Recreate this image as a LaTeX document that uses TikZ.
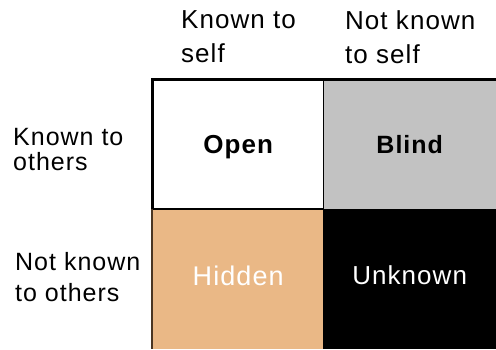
\documentclass[tikz,border=0pt]{standalone}
\usepackage{fontspec}
\setmainfont[LetterSpace=4]{Liberation Sans}
\definecolor{blindgray}{HTML}{C2C2C2}
\definecolor{hiddentan}{HTML}{EAB886}
\definecolor{hiddenedge}{HTML}{4A3522}
\tikzset{
  cell/.style={anchor=north west, inner sep=0pt, draw=none, text depth=0pt},
  toprow/.style={cell, minimum width=170pt, minimum height=130pt},
  botrow/.style={cell, minimum width=170pt, minimum height=140pt, text depth=7pt},
  heading/.style={anchor=north west, inner sep=0pt, align=left},
  thickline/.style={line width=3pt},
  thinline/.style={line width=1.5pt},
}
\begin{document}
\begin{tikzpicture}[x=1pt,y=-1pt]
\useasboundingbox[fill=white] (0,0) rectangle (496,349);
% cells
\node[toprow, fill=white, font=\bfseries\fontsize{26}{30}\selectfont] (open) at (153,79) {Open};
\node[toprow, minimum width=173pt, fill=blindgray, font=\bfseries\fontsize{25}{30}\selectfont] (blind) at (323,79) {Blind};
\node[botrow, fill=hiddentan, text=white, font=\fontsize{27}{30}\selectfont] (hidden) at (153,209) {Hidden};
\node[botrow, minimum width=173pt, text depth=9pt, fill=black, text=white, font=\fontsize{26}{30}\selectfont] (unknown) at (323,209) {Unknown};
% borders
\draw[thickline] ([xshift=-2pt,yshift=-0.5pt]open.north west) -- ([yshift=-0.5pt]blind.north east);
\draw[thickline] ([xshift=-0.5pt,yshift=-2pt]open.north west) -- ([xshift=-0.5pt]open.south west);
\draw[line width=2pt] ([xshift=-2pt]open.south west) -- (open.south east);
\draw[thinline] (open.north east) -- (open.south east);
\draw[line width=1.5pt, hiddenedge] ([xshift=-1pt]hidden.north west) -- ([xshift=-1pt]hidden.south west);
% headings
\node[heading, font=\fontsize{26}{34}\selectfont] (colA) at (181,10) {Known to\\self};
\node[heading, font=\fontsize{26}{34}\selectfont] (colB) at (345,10) {Not known\\to self};
\node[heading, font=\fontsize{25}{25}\selectfont] (rowA) at (13,128) {Known to\\others};
\node[heading, font=\fontsize{25}{31}\selectfont] (rowB) at (15,252) {Not known\\to others};
\end{tikzpicture}
\end{document}
